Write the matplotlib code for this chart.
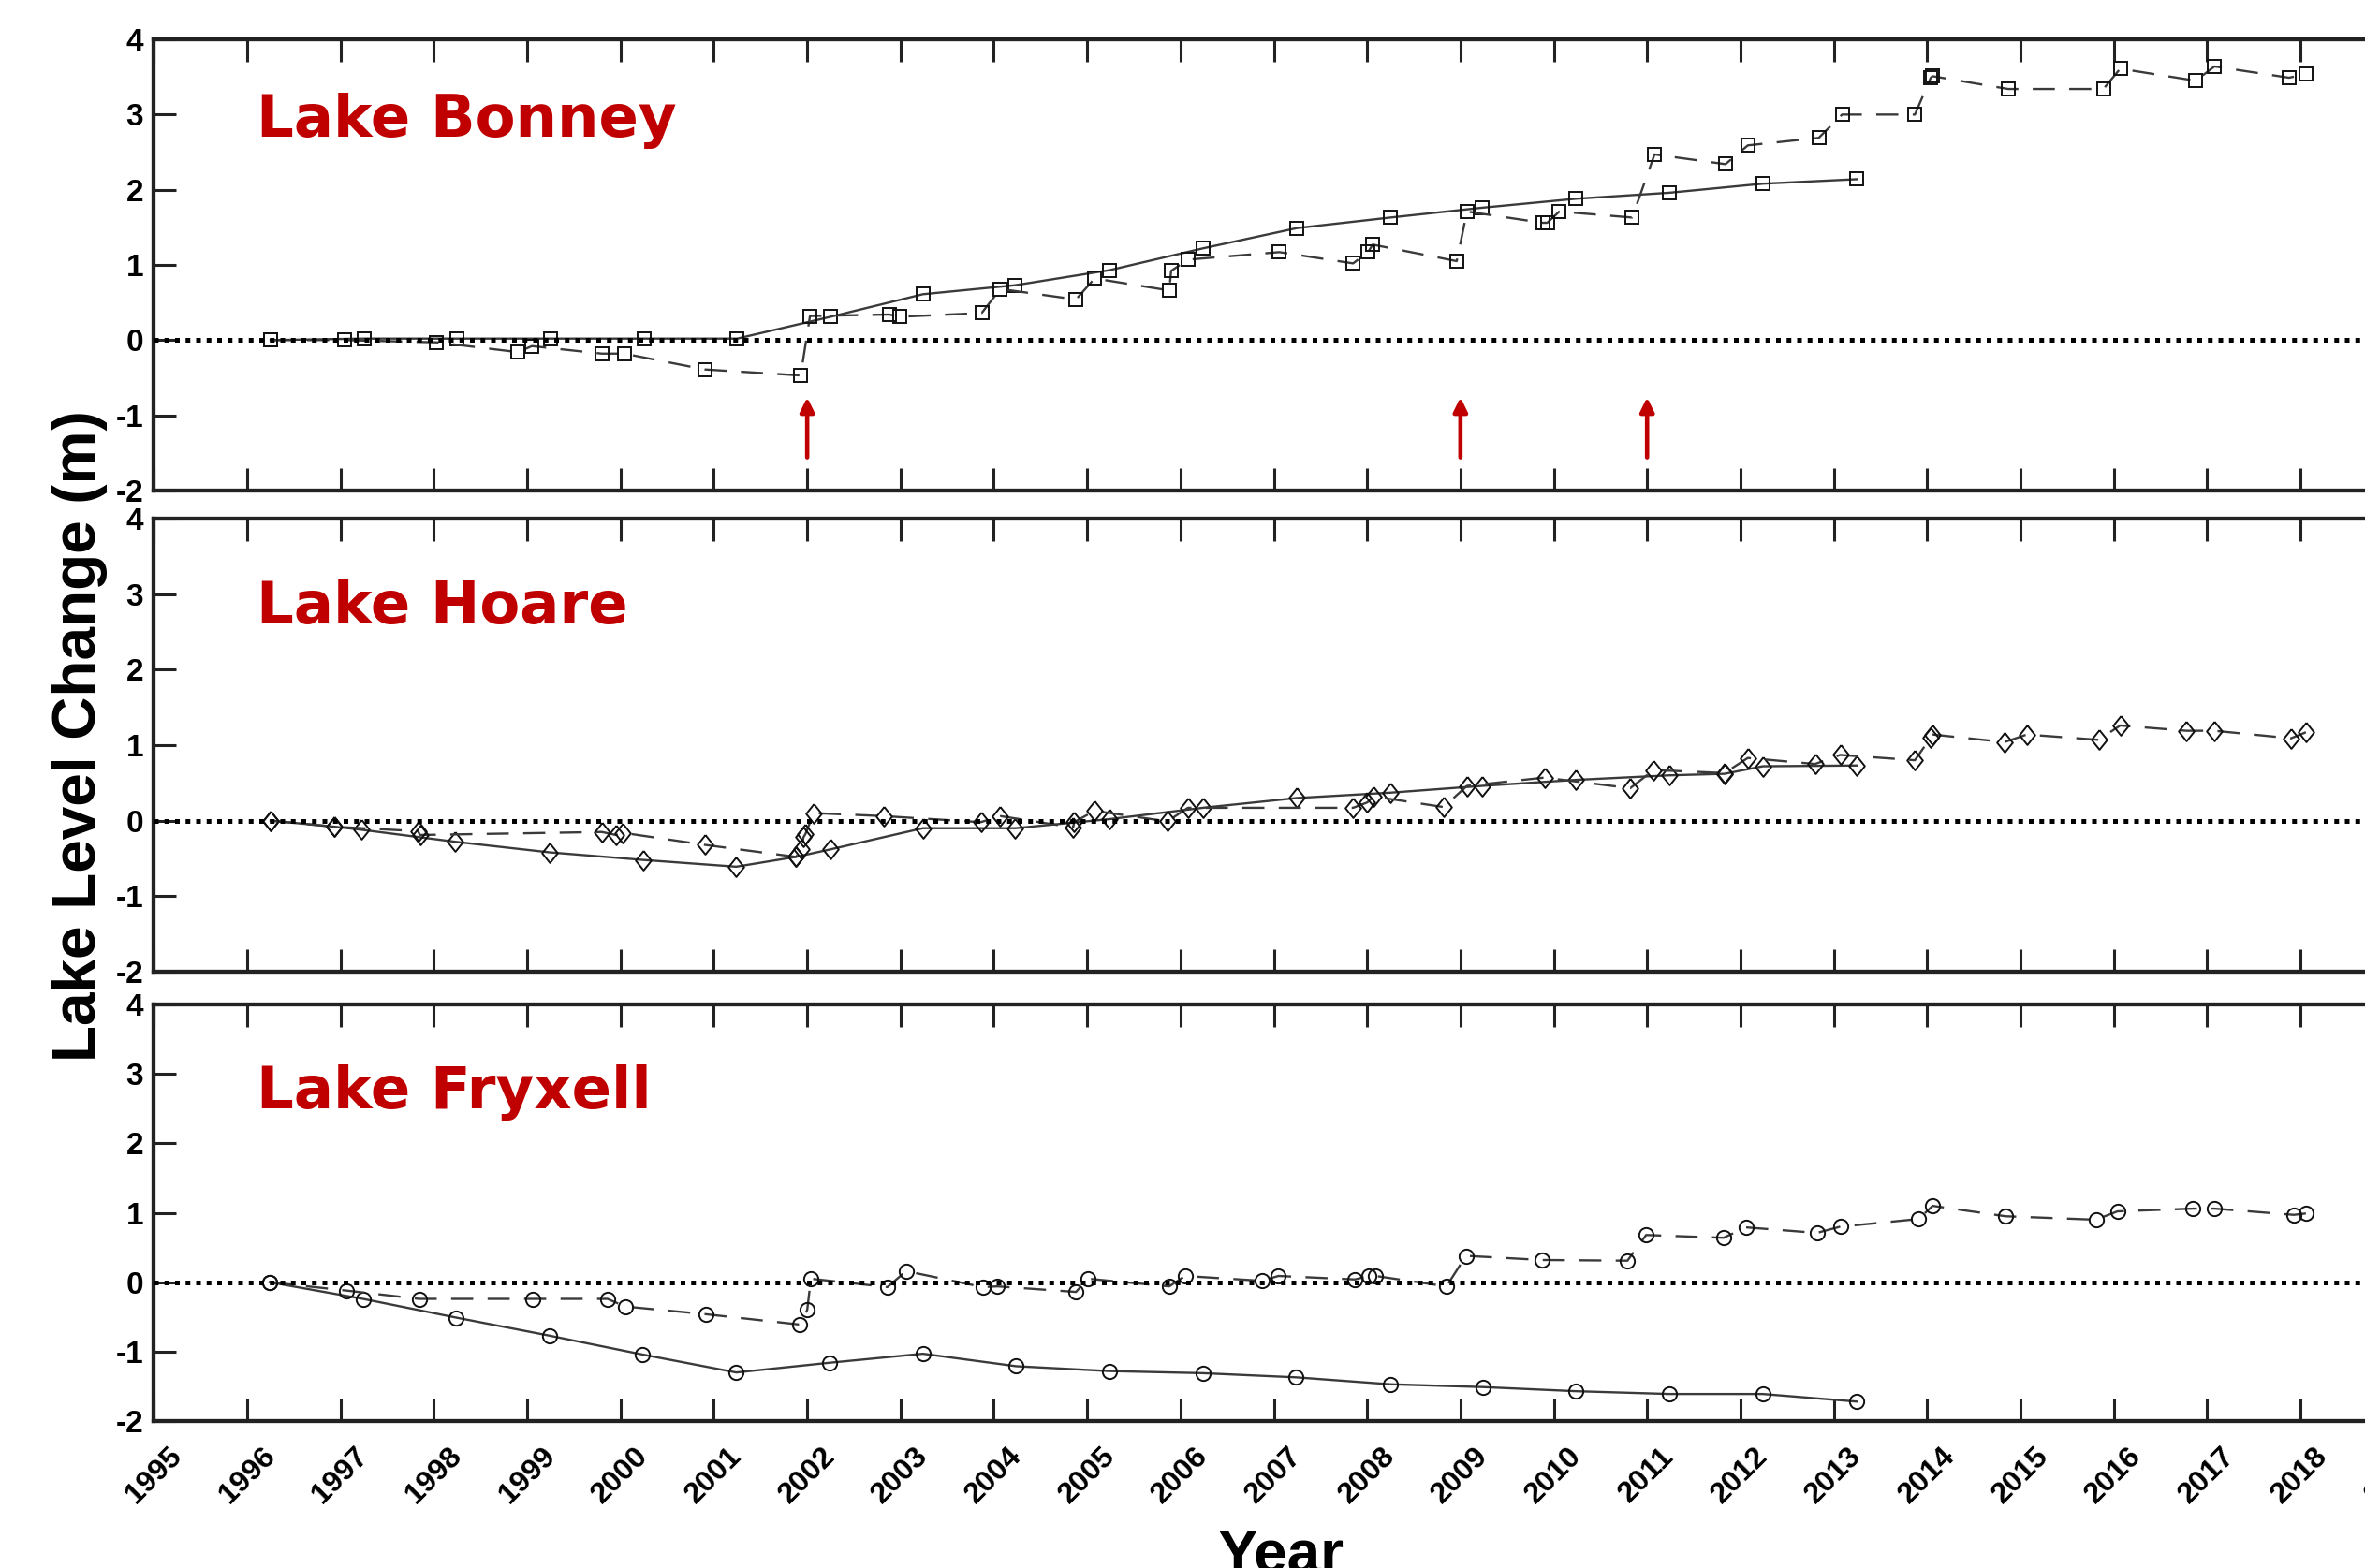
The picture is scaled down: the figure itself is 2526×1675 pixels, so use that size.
import matplotlib
matplotlib.use('Agg')
import matplotlib.pyplot as plt

# ---- data (year, lake level change in m) ----
years = list(range(1995, 2020))
yticks = [-2, -1, 0, 1, 2, 3, 4]
lake_names = ['Lake Bonney', 'Lake Hoare', 'Lake Fryxell']
arrow_years = [2002, 2009, 2011]

bonney_solid_t = [1996.25, 1997.25, 1998.25, 1999.25, 2000.25, 2001.25, 2002.25, 2003.24, 2004.23,
                  2005.24, 2006.24, 2007.25, 2008.25, 2009.23, 2010.24, 2011.24, 2012.24, 2013.25]
bonney_solid_v = [0.0, 0.02, 0.02, 0.02, 0.02, 0.02, 0.31, 0.61, 0.73,
                  0.93, 1.22, 1.49, 1.63, 1.76, 1.88, 1.96, 2.08, 2.14]
bonney_dash_t = [1996.25, 1997.04, 1998.03, 1998.9, 1999.05, 1999.8, 2000.04, 2000.9, 2001.93, 2002.03,
                 2002.88, 2002.99, 2003.87, 2004.07, 2004.88, 2005.08, 2005.88, 2005.9, 2006.08, 2007.06,
                 2007.85, 2008.01, 2008.06, 2008.96, 2009.07, 2009.88, 2009.93, 2010.06, 2010.84, 2011.08,
                 2011.84, 2012.08, 2012.84, 2013.09, 2013.87, 2014.04, 2014.06, 2014.87, 2015.89, 2016.07,
                 2016.88, 2017.08, 2017.88, 2018.06]
bonney_dash_v = [0.0, 0.0, -0.03, -0.16, -0.08, -0.18, -0.18, -0.39, -0.47, 0.32,
                 0.34, 0.31, 0.36, 0.68, 0.54, 0.82, 0.66, 0.92, 1.07, 1.17,
                 1.02, 1.17, 1.27, 1.05, 1.71, 1.56, 1.56, 1.71, 1.63, 2.47,
                 2.34, 2.59, 2.69, 3.0, 3.0, 3.49, 3.51, 3.34, 3.34, 3.61,
                 3.45, 3.64, 3.49, 3.54]

hoare_solid_t = [1996.25, 1996.93, 1997.22, 1998.23, 1999.24, 2000.24, 2001.24, 2001.88, 2002.25, 2003.24,
                 2004.23, 2005.24, 2006.24, 2007.25, 2008.25, 2009.23, 2010.24, 2011.24, 2011.83, 2012.24,
                 2013.25]
hoare_solid_v = [0.0, -0.08, -0.12, -0.28, -0.42, -0.52, -0.61, -0.48, -0.38, -0.10,
                 -0.10, 0.02, 0.17, 0.30, 0.37, 0.46, 0.54, 0.60, 0.62, 0.72,
                 0.73]
hoare_dash_t = [1996.25, 1996.93, 1997.83, 1997.85, 1999.8, 1999.95, 2000.02, 2000.9, 2001.88, 2001.94,
                2001.96, 2001.98, 2002.07, 2002.82, 2003.86, 2004.07, 2004.85, 2004.86, 2005.08, 2005.86,
                2006.08, 2007.85, 2008.0, 2008.07, 2008.82, 2009.07, 2009.9, 2010.82, 2011.07, 2011.83,
                2012.08, 2012.8, 2013.07, 2013.87, 2014.04, 2014.06, 2014.83, 2015.07, 2015.84, 2016.07,
                2016.78, 2017.08, 2017.9, 2018.06]
hoare_dash_v = [0.0, -0.08, -0.14, -0.19, -0.15, -0.19, -0.16, -0.32, -0.48, -0.38,
                -0.22, -0.18, 0.10, 0.06, -0.02, 0.06, -0.09, -0.02, 0.13, -0.01,
                0.17, 0.17, 0.24, 0.32, 0.18, 0.46, 0.57, 0.43, 0.67, 0.63,
                0.83, 0.75, 0.87, 0.80, 1.10, 1.14, 1.04, 1.14, 1.07, 1.26,
                1.19, 1.19, 1.09, 1.17]

fryxell_solid_t = [1996.24, 1997.24, 1998.24, 1999.24, 2000.23, 2001.24, 2002.24, 2003.24, 2004.24,
                   2005.24, 2006.24, 2007.24, 2008.25, 2009.24, 2010.24, 2011.24, 2012.24, 2013.25]
fryxell_solid_v = [0.0, -0.24, -0.51, -0.77, -1.04, -1.30, -1.16, -1.03, -1.21,
                   -1.28, -1.31, -1.37, -1.47, -1.51, -1.57, -1.61, -1.61, -1.72]
fryxell_dash_t = [1996.24, 1997.06, 1997.84, 1999.06, 1999.86, 2000.05, 2000.91, 2001.92, 2002.0, 2002.04,
                  2002.86, 2003.06, 2003.88, 2004.04, 2004.88, 2005.01, 2005.88, 2006.05, 2006.87, 2007.05,
                  2007.87, 2008.02, 2008.09, 2008.85, 2009.06, 2009.87, 2010.79, 2010.99, 2011.82, 2012.06,
                  2012.82, 2013.07, 2013.91, 2014.06, 2014.84, 2015.81, 2016.04, 2016.85, 2017.08, 2017.93,
                  2018.06]
fryxell_dash_v = [0.0, -0.12, -0.24, -0.24, -0.24, -0.35, -0.46, -0.61, -0.40, 0.05,
                  -0.07, 0.16, -0.07, -0.06, -0.14, 0.05, -0.06, 0.09, 0.02, 0.09,
                  0.04, 0.09, 0.09, -0.06, 0.38, 0.32, 0.31, 0.68, 0.64, 0.79,
                  0.71, 0.80, 0.91, 1.10, 0.95, 0.90, 1.02, 1.06, 1.06, 0.97,
                  0.99]

plt.rcParams['font.family'] = ['Liberation Sans', 'DejaVu Sans']
plt.rcParams['axes.unicode_minus'] = False

RED = '#C00000'
TICKFONT = ['Liberation Sans Narrow', 'Liberation Sans', 'DejaVu Sans']
thin_diamond = [(0, 1), (0.8, 0), (0, -1), (-0.8, 0), (0, 1)]

panels = [
    (bonney_solid_t, bonney_solid_v, bonney_dash_t, bonney_dash_v, 's', 10),
    (hoare_solid_t, hoare_solid_v, hoare_dash_t, hoare_dash_v, thin_diamond, 15),
    (fryxell_solid_t, fryxell_solid_v, fryxell_dash_t, fryxell_dash_v, 'o', 11),
]
# axes boxes in figure fraction (right edge runs past the figure, as in the source)
boxes = [[0.0651, 0.6872, 0.947, 0.2877],
         [0.0651, 0.3803, 0.947, 0.2890],
         [0.0651, 0.0937, 0.947, 0.2657]]
title_y = [0.784, 0.769, 0.751]

fig = plt.figure(figsize=(25.26, 16.75), dpi=100)

for i, (st, sv, dt, dv, mk, ms) in enumerate(panels):
    ax = fig.add_axes(boxes[i])
    ax.axhline(0, color='black', lw=3.6, linestyle=(0, (1, 1.25)), zorder=3)
    ax.plot(st, sv, color='#3a3a3a', lw=1.7, marker=mk, ms=ms, mfc='none',
            mec='#111111', mew=1.4, zorder=2)
    ax.plot(dt, dv, color='#3a3a3a', lw=1.7, linestyle=(0, (10, 6.5)), marker=mk, ms=ms,
            mfc='none', mec='#111111', mew=1.4, zorder=2)

    ax.set_xlim(1995, 2019)
    ax.set_ylim(-2, 4)
    ax.set_xticks(years)
    ax.set_yticks(yticks)
    ax.tick_params(axis='x', direction='in', length=17, width=2.2, top=True, bottom=True,
                   color='#222222', pad=16)
    ax.tick_params(axis='y', direction='in', length=17, width=2.2, left=True, right=False,
                   color='#222222', pad=8)
    for s in ax.spines.values():
        s.set_linewidth(3.1)
        s.set_color('#222222')

    ax.set_yticklabels([str(v) for v in yticks], family=TICKFONT, fontsize=24,
                       fontweight='bold')

    if i < 2:
        ax.set_xticklabels([])
    else:
        ax.set_xticklabels([str(y) for y in years], rotation=45, ha='center', va='top',
                           family=TICKFONT, fontsize=23, fontweight='bold')

    ax.text(0.0458, title_y[i], lake_names[i], transform=ax.transAxes, family='DejaVu Sans',
            fontsize=45, fontweight='bold', color=RED, va='baseline', ha='left')

    if i == 0:
        for x in arrow_years:
            ax.annotate('', xy=(x, -0.76), xytext=(x, -1.56),
                        arrowprops=dict(arrowstyle='-|>,head_length=0.45,head_width=0.22',
                                        color=RED, lw=3.3, shrinkA=0, shrinkB=0,
                                        mutation_scale=20))

fig.text(0.0404, 0.5307, 'Lake Level Change (m)', rotation=90, rotation_mode='anchor',
         ha='center', va='baseline', fontsize=46, fontweight='bold')
fig.text(0.5416, -0.0024, 'Year', ha='center', va='baseline', fontsize=46, fontweight='bold')

fig.savefig('out.png', dpi=100)
